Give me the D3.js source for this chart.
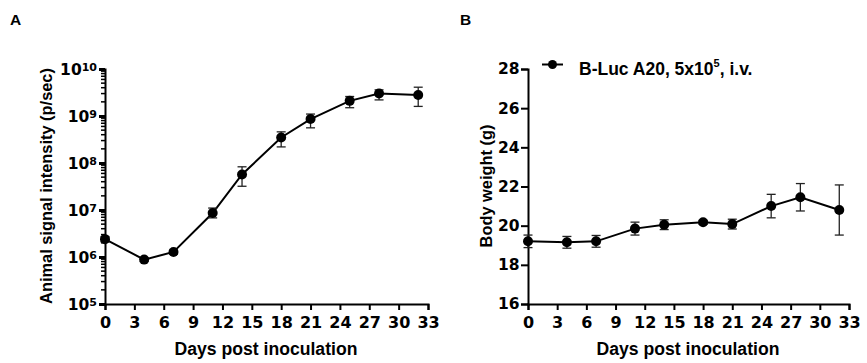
<!DOCTYPE html>
<html>
<head>
<meta charset="utf-8">
<script src="https://cdn.jsdelivr.net/npm/d3@7.9.0/dist/d3.min.js"></script>
<style>
  body { margin: 0; background: #fff; }
  svg text { font-family: "Liberation Sans", Arial, sans-serif; font-weight: bold; fill: #000; }
  svg .num { font-family: "DejaVu Sans", sans-serif; }
</style>
</head>
<body>
<svg id="chart" width="867" height="363"></svg>
<script>
// Days measured
const days = [0, 4, 7, 11, 14, 18, 21, 25, 28, 32];

// Panel A: bioluminescence signal (p/sec), mean and error bar bounds
const signalMean = [2.4e6, 0.88e6, 1.28e6, 8.6e6, 5.7e7, 3.5e8, 8.6e8, 2.1e9, 3.0e9, 2.8e9];
const signalLow  = [2.1e6, 0.80e6, 1.15e6, 6.8e6, 3.2e7, 2.2e8, 5.6e8, 1.5e9, 2.2e9, 1.6e9];
const signalHigh = [2.7e6, 0.96e6, 1.40e6, 1.1e7, 8.3e7, 4.6e8, 1.1e9, 2.6e9, 3.6e9, 4.1e9];

// Panel B: body weight (g), mean and SEM
const weightMean = [19.2, 19.15, 19.2, 19.85, 20.05, 20.17, 20.08, 21.0, 21.45, 20.8];
const weightErr  = [0.32, 0.30, 0.30, 0.33, 0.25, 0.10, 0.25, 0.60, 0.70, 1.28];

const xTicks = d3.range(0, 34, 3);
const logTicks = [1e5, 1e6, 1e7, 1e8, 1e9, 1e10];
const weightTicks = [16, 18, 20, 22, 24, 26, 28];
const legendLabel = "B-Luc A20, 5x10";

const svg = d3.select('#chart');

function styleAxis(g, fs) {
  g.select('.domain').attr('stroke', '#000').attr('stroke-width', 2);
  g.selectAll('.tick line').attr('stroke', '#000').attr('stroke-width', 2);
  g.selectAll('.tick text')
    .attr('class', 'num')
    .attr('font-size', fs)
    .attr('font-weight', 'bold')
    .attr('fill', '#000');
}

function drawSeries(g, x, y, means, lows, highs) {
  const line = d3.line().x((d, i) => x(days[i])).y(d => y(d));
  g.append('path')
    .datum(means)
    .attr('fill', 'none')
    .attr('stroke', '#000')
    .attr('stroke-width', 2)
    .attr('d', line);

  const eb = g.append('g').attr('stroke', '#222').attr('stroke-width', 1.3);
  days.forEach((d, i) => {
    const cx = x(d);
    eb.append('line').attr('x1', cx).attr('x2', cx).attr('y1', y(lows[i])).attr('y2', y(highs[i]));
    eb.append('line').attr('x1', cx - 4.5).attr('x2', cx + 4.5).attr('y1', y(lows[i])).attr('y2', y(lows[i]));
    eb.append('line').attr('x1', cx - 4.5).attr('x2', cx + 4.5).attr('y1', y(highs[i])).attr('y2', y(highs[i]));
  });

  g.selectAll('circle.pt')
    .data(means)
    .join('circle')
    .attr('class', 'pt')
    .attr('cx', (d, i) => x(days[i]))
    .attr('cy', d => y(d))
    .attr('r', 5)
    .attr('fill', '#000');
}

// ---------- Panel A ----------
const xA = d3.scaleLinear().domain([0, 33]).range([105, 428]);
const yA = d3.scaleLog().domain([1e5, 1e10]).range([304, 69]);

const gA = svg.append('g');

// minor ticks for log axis
const minor = [];
for (let e = 5; e < 10; e++) for (let m = 2; m <= 9; m++) minor.push(m * Math.pow(10, e));

const axAy = gA.append('g')
  .attr('transform', `translate(${xA(0)},0)`)
  .call(d3.axisLeft(yA).tickValues(logTicks).tickSize(6).tickFormat(''));
styleAxis(axAy, 15);
axAy.selectAll('.tick line').attr('stroke-width', 3);
axAy.selectAll('.minor')
  .data(minor)
  .join('line')
  .attr('class', 'minor')
  .attr('x1', -4).attr('x2', 0)
  .attr('y1', d => yA(d)).attr('y2', d => yA(d))
  .attr('stroke', '#000').attr('stroke-width', 1.5);

// log tick labels as 10 with superscript
gA.selectAll('text.logLab')
  .data(logTicks)
  .join('text')
  .attr('class', 'logLab num')
  .attr('x', 97)
  .attr('y', d => yA(d) + 5.5)
  .attr('text-anchor', 'end')
  .attr('font-size', 15.5)
  .each(function (d) {
    const t = d3.select(this);
    t.append('tspan').text('10');
    t.append('tspan').attr('dy', -4).attr('font-size', 11).text(Math.round(Math.log10(d)));
  });

const axAx = gA.append('g')
  .attr('transform', `translate(0,${yA(1e5)})`)
  .call(d3.axisBottom(xA).tickValues(xTicks).tickSize(6).tickPadding(7));
styleAxis(axAx, 16);

drawSeries(gA, xA, yA, signalMean, signalLow, signalHigh);

gA.append('text')
  .attr('x', 266).attr('y', 355)
  .attr('text-anchor', 'middle')
  .attr('font-size', 17.6)
  .text('Days post inoculation');

gA.append('text')
  .attr('transform', `translate(52,186) rotate(-90)`)
  .attr('text-anchor', 'middle')
  .attr('font-size', 16.4)
  .text('Animal signal intensity (p/sec)');

svg.append('text').attr('x', 10).attr('y', 25).attr('font-size', 15.5).text('A');

// ---------- Panel B ----------
const xB = d3.scaleLinear().domain([0, 33]).range([528, 849]);
const yB = d3.scaleLinear().domain([16, 28]).range([304, 69]);

const gB = svg.append('g');

const axBy = gB.append('g')
  .attr('transform', `translate(${xB(0)},0)`)
  .call(d3.axisLeft(yB).tickValues(weightTicks).tickSize(7).tickPadding(1.5));
styleAxis(axBy, 15.5);

const axBx = gB.append('g')
  .attr('transform', `translate(0,${yB(16)})`)
  .call(d3.axisBottom(xB).tickValues(xTicks).tickSize(6).tickPadding(7));
styleAxis(axBx, 16);

drawSeries(gB, xB, yB, weightMean,
  weightMean.map((m, i) => m - weightErr[i]),
  weightMean.map((m, i) => m + weightErr[i]));

gB.append('text')
  .attr('x', 688).attr('y', 355)
  .attr('text-anchor', 'middle')
  .attr('font-size', 17.6)
  .text('Days post inoculation');

gB.append('text')
  .attr('transform', `translate(492,186) rotate(-90)`)
  .attr('text-anchor', 'middle')
  .attr('font-size', 16.4)
  .text('Body weight (g)');

// legend
const leg = gB.append('g');
leg.append('line').attr('x1', 542).attr('x2', 563).attr('y1', 64.5).attr('y2', 64.5)
  .attr('stroke', '#000').attr('stroke-width', 2);
leg.append('circle').attr('cx', 552.5).attr('cy', 64.5).attr('r', 4.5).attr('fill', '#000');
const lt = leg.append('text').attr('x', 579).attr('y', 74.5).attr('font-size', 17.5);
lt.append('tspan').text(legendLabel);
lt.append('tspan').attr('dy', -8).attr('font-size', 11).text('5');
lt.append('tspan').attr('dy', 8).text(', i.v.');

svg.append('text').attr('x', 460).attr('y', 24.5).attr('font-size', 15.5).text('B');
</script>
</body>
</html>
